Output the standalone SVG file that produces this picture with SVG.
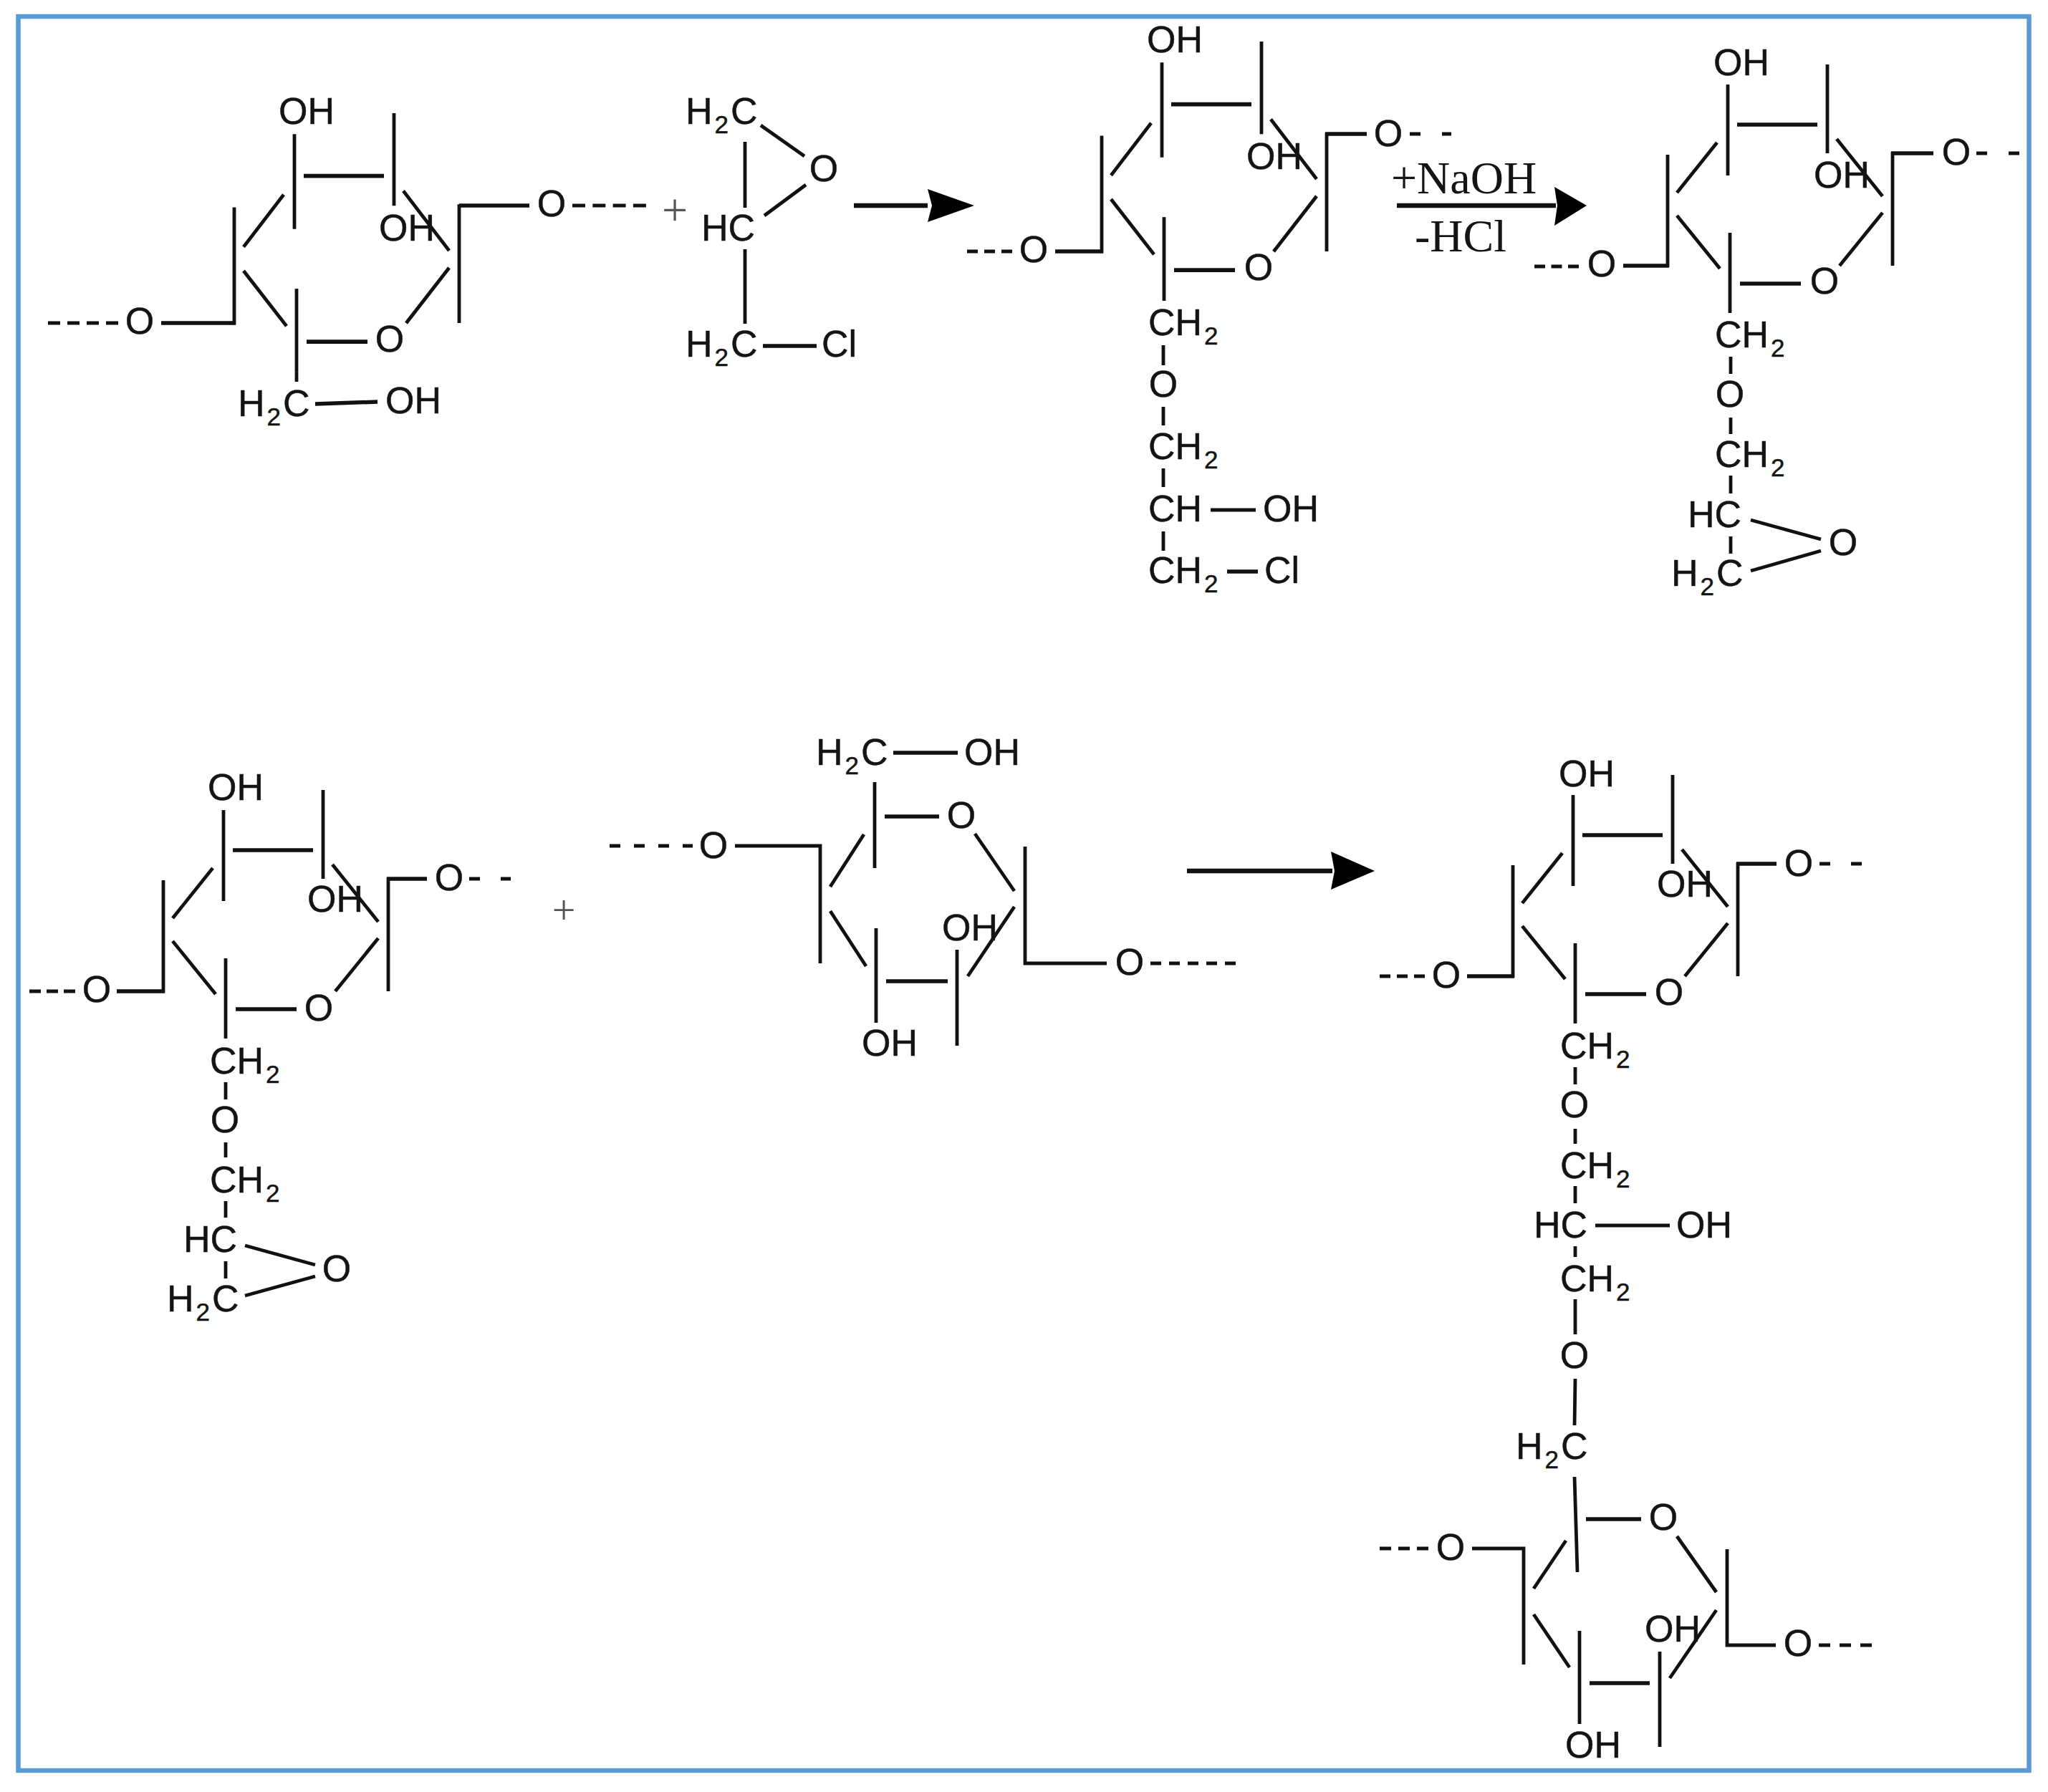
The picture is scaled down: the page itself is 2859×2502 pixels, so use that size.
<svg xmlns="http://www.w3.org/2000/svg" xmlns:xlink="http://www.w3.org/1999/xlink" width="2859" height="2502" viewBox="0 0 2859 2502">
<style>
text{font-family:"Liberation Sans",Arial,sans-serif;font-size:52px;fill:#141414;stroke:#141414;stroke-width:.5}
.m{text-anchor:middle}
.s{font-size:35px}
.serif{font-family:"Liberation Serif","Times New Roman",serif;font-size:64px;stroke:none}
.plus{font-family:"Liberation Serif","Times New Roman",serif;fill:#555;stroke:none;text-anchor:middle}
line,path.b{stroke:#111;stroke-width:4.8;fill:none}
.ar{stroke-width:6.5}
.head{fill:#000;stroke:none}
</style>
<defs>
<g id="core">
<line x1="312" y1="1131" x2="312" y2="1258"/>
<line x1="325" y1="1187" x2="437" y2="1187" style="stroke-width:5.5"/>
<line x1="451" y1="1103" x2="451" y2="1227"/>
<line x1="464" y1="1207" x2="528" y2="1287"/>
<line x1="297" y1="1212" x2="241" y2="1282"/>
<line x1="241" y1="1314" x2="301" y2="1388"/>
<line x1="315" y1="1338" x2="315" y2="1450"/>
<line x1="329" y1="1409" x2="414" y2="1409" style="stroke-width:5.5"/>
<line x1="468" y1="1384" x2="528" y2="1310"/>
<line x1="228" y1="1229" x2="228" y2="1386"/>
<line x1="542" y1="1225" x2="542" y2="1384"/>
</g>
</defs>
<rect x="0" y="0" width="2859" height="2502" fill="#fff"/>
<rect id="frame" x="25.5" y="23" width="2807" height="2449" fill="none" stroke="#5b9bd5" stroke-width="6.5"/>

<g id="ring-1">
<use href="#core" transform="translate(99,-992.4) scale(1,1.043)"/>
<line x1="414" y1="520" x2="414" y2="533"/>
<line x1="641" y1="287" x2="739" y2="287" style="stroke-width:5.5"/>
<line x1="329" y1="451" x2="225" y2="451" style="stroke-width:5.5"/>
<line x1="799" y1="287" x2="902" y2="287" stroke-dasharray="18 10.3"/>
<line x1="67" y1="451" x2="165" y2="451" stroke-dasharray="17 10"/>
<line x1="440" y1="564" x2="527" y2="561" style="stroke-width:5.5"/>
<text class="m" x="428" y="173">OH</text>
<text class="m" x="568" y="336">OH</text>
<text class="m" x="770" y="302">O</text>
<text class="m" x="195" y="466">O</text>
<text class="m" x="544" y="491">O</text>
<text x="332" y="581">H<tspan class="s" dx="3" dy="13">2</tspan><tspan dx="3" dy="-13">C</tspan></text>
<text class="m" x="577" y="577">OH</text>
</g>

<text id="plus-1" class="plus" x="942" y="315" style="font-size:64px">+</text>

<g id="epichlorohydrin">
<line x1="1040" y1="198" x2="1040" y2="290"/>
<line x1="1040" y1="348" x2="1040" y2="452"/>
<line x1="1062" y1="175" x2="1123" y2="218"/>
<line x1="1067" y1="301" x2="1125" y2="258"/>
<line x1="1065" y1="483" x2="1140" y2="483" style="stroke-width:5.5"/>
<text x="957" y="173">H<tspan class="s" dx="3" dy="13">2</tspan><tspan dx="3" dy="-13">C</tspan></text>
<text class="m" x="1150" y="253">O</text>
<text x="979" y="336">HC</text>
<text x="957" y="498">H<tspan class="s" dx="3" dy="13">2</tspan><tspan dx="3" dy="-13">C</tspan></text>
<text x="1147" y="498">Cl</text>
</g>

<g id="ring-2" transform="translate(-2,0)">
<use href="#core" transform="translate(1312,-1092.4) scale(1,1.043)"/>
<line x1="1852" y1="187" x2="1910" y2="187" style="stroke-width:5.5"/>
<line x1="1542" y1="351" x2="1475" y2="351" style="stroke-width:5.5"/>
<line x1="1970" y1="187" x2="2028" y2="187" stroke-dasharray="15 30"/>
<line x1="1352" y1="351" x2="1415" y2="351" stroke-dasharray="15 9"/>
<text class="m" x="1642" y="73">OH</text>
<text class="m" x="1781" y="236">OH</text>
<text class="m" x="1940" y="204">O</text>
<text class="m" x="1445" y="366">O</text>
<text class="m" x="1759" y="391">O</text>
<text x="1605" y="468">CH<tspan class="s" dx="3" dy="13">2</tspan></text>
<line x1="1626" y1="482" x2="1626" y2="510"/>
<text class="m" x="1626" y="554">O</text>
<line x1="1626" y1="568" x2="1626" y2="594"/>
<text x="1605" y="641">CH<tspan class="s" dx="3" dy="13">2</tspan></text>
<line x1="1626" y1="654" x2="1626" y2="680"/>
<text x="1605" y="728">CH</text>
<line x1="1692" y1="712" x2="1755" y2="712"/>
<text x="1765" y="728">OH</text>
<line x1="1626" y1="742" x2="1626" y2="769"/>
<text x="1605" y="814">CH<tspan class="s" dx="3" dy="13">2</tspan></text>
<line x1="1715" y1="798" x2="1758" y2="798" style="stroke-width:5.5"/>
<text x="1767" y="814">Cl</text>
</g>

<g id="ring-3" transform="translate(-6,0)">
<use href="#core" transform="translate(2106,-1013)"/>
<line x1="2646" y1="214" x2="2705" y2="214" style="stroke-width:5.5"/>
<line x1="2336" y1="371" x2="2272" y2="371" style="stroke-width:5.5"/>
<line x1="2765" y1="214" x2="2825" y2="214" stroke-dasharray="15 30"/>
<line x1="2148" y1="372" x2="2210" y2="372" stroke-dasharray="15 8.5"/>
<text class="m" x="2437" y="105">OH</text>
<text class="m" x="2577" y="262">OH</text>
<text class="m" x="2737" y="230">O</text>
<text class="m" x="2242" y="386">O</text>
<text class="m" x="2553" y="410">O</text>
<text x="2400" y="485">CH<tspan class="s" dx="3" dy="13">2</tspan></text>
<line x1="2422" y1="498" x2="2422" y2="522"/>
<text class="m" x="2421" y="568">O</text>
<line x1="2422" y1="583" x2="2422" y2="606"/>
<text x="2400" y="652">CH<tspan class="s" dx="3" dy="13">2</tspan></text>
<line x1="2422" y1="664" x2="2422" y2="689"/>
<text x="2362" y="736">HC</text>
<line x1="2422" y1="749" x2="2422" y2="773"/>
<text x="2339" y="818">H<tspan class="s" dx="3" dy="13">2</tspan><tspan dx="3" dy="-13">C</tspan></text>
<text class="m" x="2579" y="775">O</text>
<line x1="2450" y1="726" x2="2548" y2="753"/>
<line x1="2450" y1="797" x2="2548" y2="769"/>
</g>

<g id="ring-4">
<use href="#core"/>
<line x1="540" y1="1227" x2="596" y2="1227" style="stroke-width:5.5"/>
<line x1="230" y1="1384" x2="163" y2="1384" style="stroke-width:5.5"/>
<line x1="655" y1="1227" x2="713" y2="1227" stroke-dasharray="15 29"/>
<line x1="41" y1="1384" x2="105" y2="1384" stroke-dasharray="16 8"/>
<text class="m" x="329" y="1117">OH</text>
<text class="m" x="468" y="1273">OH</text>
<text class="m" x="627" y="1243">O</text>
<text class="m" x="135" y="1399">O</text>
<text class="m" x="445" y="1425">O</text>
<text x="293" y="1499">CH<tspan class="s" dx="3" dy="13">2</tspan></text>
<line x1="315" y1="1511" x2="315" y2="1535"/>
<text class="m" x="314" y="1581">O</text>
<line x1="315" y1="1595" x2="315" y2="1616"/>
<text x="293" y="1665">CH<tspan class="s" dx="3" dy="13">2</tspan></text>
<line x1="315" y1="1677" x2="315" y2="1700"/>
<text x="256" y="1748">HC</text>
<line x1="315" y1="1761" x2="315" y2="1785"/>
<text x="233" y="1831">H<tspan class="s" dx="3" dy="13">2</tspan><tspan dx="3" dy="-13">C</tspan></text>
<text class="m" x="470" y="1789">O</text>
<line x1="342" y1="1739" x2="440" y2="1766"/>
<line x1="342" y1="1809" x2="440" y2="1782"/>
</g>

<text id="plus-2" class="plus" x="787" y="1290" style="font-size:58px">+</text>

<g id="ring-5">
<text x="1139" y="1068">H<tspan class="s" dx="3" dy="13">2</tspan><tspan dx="3" dy="-13">C</tspan></text>
<line x1="1247" y1="1051" x2="1337" y2="1051" style="stroke-width:5.5"/>
<text class="m" x="1385" y="1068">OH</text>
<line x1="1221" y1="1092" x2="1221" y2="1212"/>
<line x1="1235" y1="1140" x2="1311" y2="1140" style="stroke-width:5.5"/>
<text class="m" x="1342" y="1156">O</text>
<line x1="1361" y1="1164" x2="1416" y2="1244"/>
<path class="b" d="M1431,1182V1345H1545"/>
<text class="m" x="1577" y="1361">O</text>
<line x1="1606" y1="1345" x2="1725" y2="1345" stroke-dasharray="15 11"/>
<text class="m" x="996" y="1198">O</text>
<line x1="851" y1="1181" x2="967" y2="1181" stroke-dasharray="15 19"/>
<path class="b" d="M1026,1181H1145V1345"/>
<line x1="1206" y1="1165" x2="1159" y2="1238"/>
<line x1="1159" y1="1272" x2="1209" y2="1349"/>
<line x1="1223" y1="1296" x2="1223" y2="1428"/>
<line x1="1237" y1="1370" x2="1323" y2="1370" style="stroke-width:5.5"/>
<line x1="1336" y1="1326" x2="1336" y2="1460"/>
<line x1="1416" y1="1266" x2="1351" y2="1363"/>
<text class="m" x="1354" y="1313">OH</text>
<text class="m" x="1242" y="1474">OH</text>
</g>

<g id="ring-6">
<use href="#core" transform="translate(1884,-21)"/>
<line x1="2424" y1="1206" x2="2480" y2="1206" style="stroke-width:5.5"/>
<line x1="2114" y1="1363" x2="2048" y2="1363" style="stroke-width:5.5"/>
<line x1="2540" y1="1206" x2="2599" y2="1206" stroke-dasharray="15 29"/>
<line x1="1926" y1="1363" x2="1989" y2="1363" stroke-dasharray="15 9"/>
<text class="m" x="2215" y="1098">OH</text>
<text class="m" x="2352" y="1252">OH</text>
<text class="m" x="2511" y="1223">O</text>
<text class="m" x="2019" y="1379">O</text>
<text class="m" x="2330" y="1403">O</text>
<text x="2178" y="1478">CH<tspan class="s" dx="3" dy="13">2</tspan></text>
<line x1="2199" y1="1490" x2="2199" y2="1514"/>
<text class="m" x="2198" y="1560">O</text>
<line x1="2199" y1="1576" x2="2199" y2="1597"/>
<text x="2178" y="1645">CH<tspan class="s" dx="3" dy="13">2</tspan></text>
<line x1="2199" y1="1656" x2="2199" y2="1680"/>
<text x="2141" y="1728">HC</text>
<line x1="2227" y1="1711" x2="2331" y2="1711"/>
<text x="2340" y="1728">OH</text>
<line x1="2199" y1="1740" x2="2199" y2="1755"/>
<text x="2178" y="1803">CH<tspan class="s" dx="3" dy="13">2</tspan></text>
<line x1="2199" y1="1814" x2="2199" y2="1863"/>
<text class="m" x="2198" y="1910">O</text>
<line x1="2199" y1="1925" x2="2198" y2="1990"/>
</g>

<g id="ring-7">
<text x="2116" y="2037">H<tspan class="s" dx="3" dy="13">2</tspan><tspan dx="3" dy="-13">C</tspan></text>
<line x1="2198" y1="2062" x2="2202" y2="2195"/>
<line x1="2214" y1="2121" x2="2291" y2="2121" style="stroke-width:5.5"/>
<text class="m" x="2322" y="2136">O</text>
<line x1="2341" y1="2145" x2="2396" y2="2223"/>
<path class="b" d="M2411,2163V2297H2479"/>
<text class="m" x="2510" y="2312">O</text>
<line x1="2539" y1="2297" x2="2613" y2="2297" stroke-dasharray="16 13"/>
<text class="m" x="2025" y="2178">O</text>
<line x1="1926" y1="2162" x2="1994" y2="2162" stroke-dasharray="16 10"/>
<path class="b" d="M2055,2162H2127V2324"/>
<line x1="2186" y1="2151" x2="2141" y2="2218"/>
<line x1="2141" y1="2254" x2="2191" y2="2328"/>
<line x1="2205" y1="2277" x2="2205" y2="2407"/>
<line x1="2219" y1="2350" x2="2303" y2="2350" style="stroke-width:5.5"/>
<line x1="2317" y1="2306" x2="2317" y2="2439"/>
<line x1="2396" y1="2248" x2="2331" y2="2343"/>
<text class="m" x="2335" y="2292">OH</text>
<text class="m" x="2224" y="2454">OH</text>
</g>

<g id="connectors">
<line class="ar" x1="1192" y1="287" x2="1295" y2="287"/>
<polygon class="head" points="1295,264 1360,287 1295,310 1301,287"/>
<line class="ar" x1="1950" y1="287" x2="2172" y2="287"/>
<polygon class="head" points="2170,261 2215,287 2170,315 2174,287"/>
<line class="ar" x1="1657" y1="1216" x2="1860" y2="1216"/>
<polygon class="head" points="1858,1189 1919,1216 1858,1242 1863,1216"/>
</g>

<g id="arrow-labels">
<text class="serif" x="1942" y="270">+NaOH</text>
<text class="serif" x="1975" y="351">-HCl</text>
</g>
</svg>
